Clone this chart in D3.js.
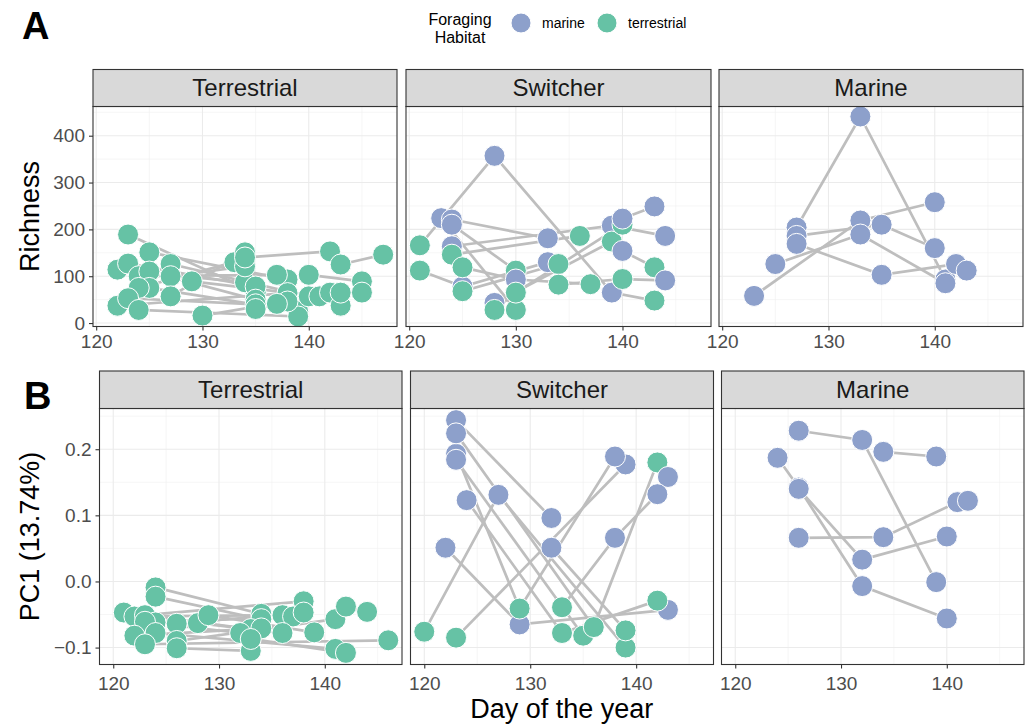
<!DOCTYPE html>
<html>
<head>
<meta charset="utf-8">
<script src="https://cdn.jsdelivr.net/npm/d3@7"></script>
<style>
  body { margin: 0; background: #fff; }
  svg { font-family: "Liberation Sans", Arial, sans-serif; }
</style>
</head>
<body>
<svg id="chart" width="1032" height="725"></svg>
<script>
const T = "terrestrial", M = "marine"
const facets = ["Terrestrial", "Switcher", "Marine"]
const habitats = [M, T]

// Richness, terrestrial foragers (two visits per bird)
const richTerrBird = [1,1,2,2,3,3,4,4,5,5,6,6,7,7,8,8,9,9,10,10,11,11,12,12,13,13,14,14,15,15,16,16,17,17,18,18,19,19,20,20,21,21,22,22]
const richTerrDay = [123,135,125,138,122,134,123,135,124,137,125,135,125,139,124,133,122,138,123,135,124,139,127,140,127,134,127,134,129,141,130,138,135,137,134,142,140,145,142,143,143,147,143,145]
const richTerrVal = [189,65,151,93,114,87,127,78,100,103,110,50,75,25,75,130,37,64,53,40,28,14,126,57,100,121,57,151,89,57,16,46,30,41,140,153,103,89,65,37,125,146,65,65]

// Richness, switchers
const richSwBird = [1,1,1,1,2,2,3,3,4,4,5,5,5,6,6,7,7,7,8,8,8,9,9,10,10,11,11,11,12,12,13,13,13,14,14]
const richSwDay = [121,128,139,143,123,130,124,133,124,130,124,139,144,124,136,121,125,133,125,130,137,125,134,128,139,128,130,140,140,143,134,140,144,140,143]
const richSwVal = [166,357,65,48,224,28,221,181,210,112,164,208,186,146,186,112,78,130,119,93,83,68,126,43,174,28,65,210,154,119,82,94,91,223,249]
const richSwHab = [T,M,M,T,M,T,M,M,M,T,M,M,M,T,T,T,M,M,T,M,T,T,T,M,T,T,T,T,M,T,T,T,M,M,M]

// Richness, marine foragers
const richMarBird = [1,1,1,2,2,2,3,3,3,4,4,4,5,5,5,6]
const richMarDay = [127,133,141,123,133,140,127,135,140,125,133,141,127,135,142,143]
const richMarVal = [204,441,93,58,219,258,186,210,160,126,189,85,169,103,126,112]

// PC1, terrestrial foragers
const pcTerrBird = [1,1,2,2,3,3,4,4,5,5,6,6,7,7,8,8,9,9,10,10,11,11,12,12,13,13,14,14,15,15,16,16,17,17]
const pcTerrDay = [124,134,124,134,121,133,122,136,123,138,124,137,123,132,122,134,124,141,123,146,126,138,126,141,126,133,128,136,129,139,133,142,142,144]
const pcTerrVal = [-0.009,-0.049,-0.023,-0.057,-0.047,-0.072,-0.053,-0.051,-0.051,-0.030,-0.062,-0.053,-0.061,-0.078,-0.082,-0.071,-0.078,-0.102,-0.095,-0.089,-0.064,-0.047,-0.090,-0.057,-0.101,-0.105,-0.063,-0.078,-0.051,-0.077,-0.087,-0.108,-0.038,-0.046]

// PC1, switchers
const pcSwBird = [1,1,1,2,2,3,3,3,4,4,5,5,5,6,6,7,7,7,8,8,8,8,9,9,9,10,10]
const pcSwDay = [120,127,139,123,139,122,129,143,123,132,123,129,138,123,135,124,133,142,123,136,142,143,133,138,142,132,139]
const pcSwVal = [-0.076,0.131,-0.100,-0.085,0.177,0.051,-0.065,-0.043,0.244,0.096,0.193,-0.041,0.189,0.184,-0.082,0.123,-0.078,-0.029,0.224,-0.069,0.180,0.158,-0.039,0.066,0.132,0.051,-0.074]
const pcSwHab = [T,M,T,T,M,M,M,M,M,M,M,T,M,M,T,M,T,T,M,T,T,M,T,M,M,M,T]

// PC1, marine foragers
const pcMarBird = [1,1,1,2,2,3,3,3,3,4,4,4,5,5,5,6]
const pcMarDay = [126,132,139,134,139,124,126,132,140,126,132,140,126,134,141,142]
const pcMarVal = [0.228,0.214,-0.001,0.196,0.189,0.187,0.142,-0.007,-0.056,0.140,0.033,0.068,0.066,0.067,0.120,0.122]

const xTicks = [120, 130, 140]
const xMinor = [125, 135, 145]
const richTicks = [0, 100, 200, 300, 400]
const richMinor = [50, 150, 250, 350, 450]
const pcTicks = [-0.1, 0, 0.1, 0.2]
const pcMinor = [-0.05, 0.05, 0.15, 0.25]

const svg = d3.select("#chart")
const color = d3.scaleOrdinal().domain(habitats).range(["#8da0cb", "#66c2a5"])

const toPoints = (day, val, hab, bird) =>
  day.map((d, i) => ({day: d, val: val[i], hab: Array.isArray(hab) ? hab[i] : hab, bird: bird[i]}))

const expand = ([a, b]) => { const p = (b - a) * 0.05; return [a - p, b + p] }

const rowA = {
  panels: [
    toPoints(richTerrDay, richTerrVal, T, richTerrBird),
    toPoints(richSwDay, richSwVal, richSwHab, richSwBird),
    toPoints(richMarDay, richMarVal, M, richMarBird)
  ],
  xs: [[93, 397], [406, 711], [719, 1023]],
  stripTop: 69.5, top: 106.5, bottom: 326.5, xPad: 4,
  yTicks: richTicks, yMinor: richMinor, yFormat: d3.format("d")
}
const rowB = {
  panels: [
    toPoints(pcTerrDay, pcTerrVal, T, pcTerrBird),
    toPoints(pcSwDay, pcSwVal, pcSwHab, pcSwBird),
    toPoints(pcMarDay, pcMarVal, M, pcMarBird)
  ],
  xs: [[99.5, 402], [410.5, 713.5], [721.5, 1024]],
  stripTop: 371, top: 408.5, bottom: 664.5, xPad: 8,
  yTicks: pcTicks, yMinor: pcMinor, yFormat: d3.format(".1f")
}

function drawRow(row) {
  const all = row.panels.flat()
  const xDom = expand(d3.extent(all, d => d.day))
  const y = d3.scaleLinear()
    .domain(expand(d3.extent(all, d => d.val)))
    .range([row.bottom, row.top])

  row.panels.forEach((pts, i) => {
    const [x0, x1] = row.xs[i]
    const x = d3.scaleLinear().domain(xDom).range([x0, x1])
    const g = svg.append("g")

    // grid
    g.selectAll(".xminor").data(xMinor.filter(v => v > xDom[0] && v < xDom[1]))
      .enter().append("line")
      .attr("x1", d => x(d)).attr("x2", d => x(d))
      .attr("y1", row.top).attr("y2", row.bottom)
      .attr("stroke", "#f0f0f0").attr("stroke-width", 0.6)
    g.selectAll(".yminor").data(row.yMinor.filter(v => v > y.domain()[0] && v < y.domain()[1]))
      .enter().append("line")
      .attr("x1", x0).attr("x2", x1)
      .attr("y1", d => y(d)).attr("y2", d => y(d))
      .attr("stroke", "#f0f0f0").attr("stroke-width", 0.6)
    g.selectAll(".xmajor").data(xTicks)
      .enter().append("line")
      .attr("x1", d => x(d)).attr("x2", d => x(d))
      .attr("y1", row.top).attr("y2", row.bottom)
      .attr("stroke", "#ebebeb").attr("stroke-width", 1.1)
    g.selectAll(".ymajor").data(row.yTicks)
      .enter().append("line")
      .attr("x1", x0).attr("x2", x1)
      .attr("y1", d => y(d)).attr("y2", d => y(d))
      .attr("stroke", "#ebebeb").attr("stroke-width", 1.1)

    // paired visits
    const line = d3.line().x(d => x(d.day)).y(d => y(d.val))
    const groups = Array.from(d3.group(pts, d => d.bird).values())
      .filter(v => v.length > 1)
      .map(v => v.slice().sort((a, b) => a.day - b.day))
    g.selectAll(".pair").data(groups)
      .enter().append("path")
      .attr("d", line)
      .attr("fill", "none")
      .attr("stroke", "#bebebe")
      .attr("stroke-width", 2.7)

    g.selectAll(".pt").data(pts)
      .enter().append("circle")
      .attr("cx", d => x(d.day))
      .attr("cy", d => y(d.val))
      .attr("r", 10.5)
      .attr("fill", d => color(d.hab))
      .attr("stroke", "#fff")
      .attr("stroke-width", 1)

    // panel border
    g.append("rect")
      .attr("x", x0).attr("y", row.top)
      .attr("width", x1 - x0).attr("height", row.bottom - row.top)
      .attr("fill", "none").attr("stroke", "#333").attr("stroke-width", 1.1)

    // strip
    g.append("rect")
      .attr("x", x0).attr("y", row.stripTop)
      .attr("width", x1 - x0).attr("height", row.top - row.stripTop)
      .attr("fill", "#d9d9d9").attr("stroke", "#333").attr("stroke-width", 1.1)
    g.append("text")
      .attr("x", (x0 + x1) / 2)
      .attr("y", (row.stripTop + row.top) / 2)
      .attr("dy", "0.35em")
      .attr("text-anchor", "middle")
      .attr("font-size", 24)
      .attr("fill", "#1a1a1a")
      .text(facets[i])

    // x axis
    const xa = g.append("g")
      .attr("transform", `translate(0,${row.bottom})`)
      .call(d3.axisBottom(x).tickValues(xTicks).tickSize(4).tickPadding(row.xPad))
    xa.select(".domain").remove()
    xa.selectAll("line").attr("stroke", "#333").attr("stroke-width", 1.1)
    xa.selectAll("text").attr("font-size", 19).attr("fill", "#4d4d4d")
      .attr("font-family", "Liberation Sans, Arial, sans-serif")

    if (i === 0) {
      const ya = g.append("g")
        .attr("transform", `translate(${x0},0)`)
        .call(d3.axisLeft(y).tickValues(row.yTicks).tickFormat(row.yFormat).tickSize(4).tickPadding(4))
      ya.select(".domain").remove()
      ya.selectAll("line").attr("stroke", "#333").attr("stroke-width", 1.1)
      ya.selectAll("text").attr("font-size", 19).attr("fill", "#4d4d4d")
        .attr("font-family", "Liberation Sans, Arial, sans-serif")
    }
  })
}

drawRow(rowA)
drawRow(rowB)

// axis titles
svg.append("text")
  .attr("transform", `translate(39,${(rowA.top + rowA.bottom) / 2}) rotate(-90)`)
  .attr("text-anchor", "middle").attr("font-size", 27).attr("fill", "#000")
  .text("Richness")
svg.append("text")
  .attr("transform", `translate(39,${(rowB.top + rowB.bottom) / 2}) rotate(-90)`)
  .attr("text-anchor", "middle").attr("font-size", 27).attr("fill", "#000")
  .text("PC1  (13.74%)")
svg.append("text")
  .attr("x", (rowB.xs[0][0] + rowB.xs[2][1]) / 2).attr("y", 718)
  .attr("text-anchor", "middle").attr("font-size", 27).attr("fill", "#000")
  .text("Day of the year")

// panel tags
svg.append("text").attr("x", 22).attr("y", 39)
  .attr("font-size", 38).attr("font-weight", "bold").text("A")
svg.append("text").attr("x", 24).attr("y", 409)
  .attr("font-size", 38).attr("font-weight", "bold").text("B")

// legend
const leg = svg.append("g")
leg.append("text").attr("x", 460).attr("y", 25).attr("text-anchor", "middle")
  .attr("font-size", 16).text("Foraging")
leg.append("text").attr("x", 460).attr("y", 43).attr("text-anchor", "middle")
  .attr("font-size", 16).text("Habitat")
const legX = d3.scalePoint().domain(habitats).range([521, 607])
leg.selectAll("circle").data(habitats).enter().append("circle")
  .attr("cx", d => legX(d)).attr("cy", 23).attr("r", 10)
  .attr("fill", d => color(d)).attr("stroke", "#fff")
leg.selectAll(".lab").data(habitats).enter().append("text")
  .attr("x", d => legX(d) + 21).attr("y", 28)
  .attr("font-size", 14).text(d => d)
</script>
</body>
</html>
